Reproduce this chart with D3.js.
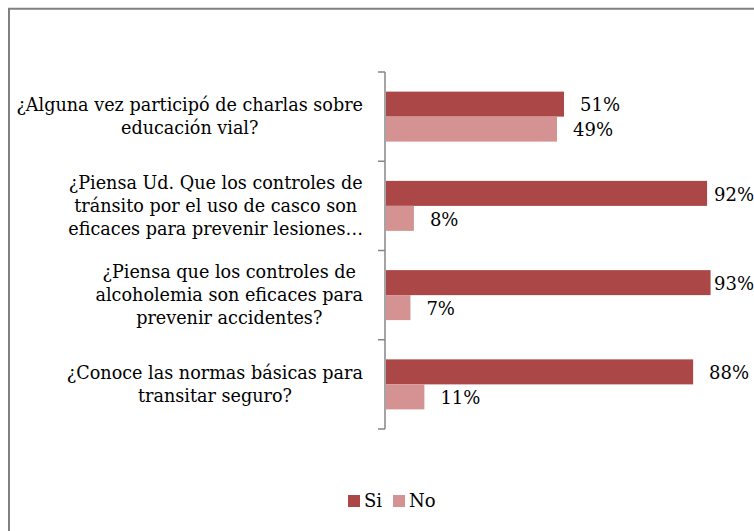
<!DOCTYPE html>
<html>
<head>
  <meta charset="utf-8">
  <script src="https://d3js.org/d3.v7.min.js"></script>
  <style>
    body { margin: 0; background: #fff; }
    svg { display: block; }
    text { font-family: "DejaVu Serif", "Liberation Serif", serif; fill: #000; }
  </style>
</head>
<body>
<script>
  // data
  var categories = [
    ["¿Alguna vez participó de charlas sobre", "educación vial?"],
    ["¿Piensa Ud. Que los controles de", "tránsito por el uso de casco son", "eficaces para prevenir lesiones…"],
    ["¿Piensa que los controles de", "alcoholemia son eficaces para", "prevenir accidentes?"],
    ["¿Conoce las normas básicas para", "transitar seguro?"]
  ];
  var series = ["Si", "No"];
  var siValues = [51, 92, 93, 88];
  var noValues = [49, 8, 7, 11];
  var colors = ["#AB4746", "#D49392"];

  var width = 754, height = 531;

  var svg = d3.select("body").append("svg")
    .attr("width", width)
    .attr("height", height);

  // chart frame (only top and left edges show)
  svg.append("path")
    .attr("d", "M9,531 V8.75 H754")
    .attr("fill", "none")
    .attr("stroke", "#808080")
    .attr("stroke-width", 2);

  var plot = {left: 386, right: 735, top: 72, bottom: 429};

  var y = d3.scaleBand()
    .domain(d3.range(categories.length))
    .range([plot.top, plot.bottom]);

  var ySeries = d3.scaleBand()
    .domain(series)
    .range([0, y.bandwidth()])
    .paddingOuter(0.785);

  var x = d3.scaleLinear()
    .domain([0, 100])
    .range([plot.left, plot.right]);

  var rows = categories.map(function (c, i) {
    return {i: i, lines: c, values: [siValues[i], noValues[i]]};
  });

  // bars
  var groups = svg.selectAll("g.cat")
    .data(rows)
    .enter().append("g")
      .attr("class", "cat")
      .attr("transform", function (d) { return "translate(0," + y(d.i) + ")"; });

  groups.selectAll("rect")
    .data(function (d) { return d.values.map(function (v, j) { return {s: series[j], v: v, j: j}; }); })
    .enter().append("rect")
      .attr("x", x(0))
      .attr("y", function (d) { return ySeries(d.s); })
      .attr("width", function (d) { return x(d.v) - x(0); })
      .attr("height", ySeries.bandwidth())
      .attr("fill", function (d) { return colors[d.j]; });

  groups.selectAll("text.val")
    .data(function (d) { return d.values.map(function (v, j) { return {s: series[j], v: v}; }); })
    .enter().append("text")
      .attr("class", "val")
      .attr("x", function (d) { return Math.min(x(d.v) + 16, 714); })
      .attr("y", function (d) { return ySeries(d.s) + ySeries.bandwidth() / 2 + 1; })
      .attr("dy", "0.35em")
      .style("font-size", "18px")
      .text(function (d) { return d.v + "%"; });

  // vertical axis
  var axis = svg.append("g")
    .attr("transform", "translate(" + (plot.left - 1) + ",0)");
  axis.append("line")
    .attr("y1", plot.top).attr("y2", plot.bottom)
    .attr("stroke", "#868686").attr("stroke-width", 1.5);
  axis.selectAll("line.tick")
    .data(d3.range(categories.length + 1))
    .enter().append("line")
      .attr("class", "tick")
      .attr("x1", -7).attr("x2", 0)
      .attr("y1", function (d) { return plot.top + d * y.step(); })
      .attr("y2", function (d) { return plot.top + d * y.step(); })
      .attr("stroke", "#868686").attr("stroke-width", 1.5);

  // category labels: lines centred inside a block whose right edge sits at 363
  var lineH = 23;
  groups.each(function (d) {
    var g = d3.select(this);
    var t = g.append("text")
      .attr("text-anchor", "middle")
      .style("font-size", "17.6px");
    var n = d.lines.length;
    var spans = t.selectAll("tspan")
      .data(d.lines)
      .enter().append("tspan")
        .attr("y", function (l, k) { return y.bandwidth() / 2 + (k - (n - 1) / 2) * lineH; })
        .attr("dy", "0.35em")
        .text(function (l) { return l; });
    var maxW = 0;
    spans.each(function () { maxW = Math.max(maxW, this.getComputedTextLength()); });
    spans.attr("x", 363 - maxW / 2);
  });

  // legend
  var legend = svg.append("g").attr("transform", "translate(348,495)");
  var items = legend.selectAll("g")
    .data(series)
    .enter().append("g")
      .attr("transform", function (d, i) { return "translate(" + (i * 45) + ",0)"; });
  items.append("rect")
    .attr("width", 12).attr("height", 12)
    .attr("fill", function (d, i) { return colors[i]; });
  items.append("text")
    .attr("x", 16).attr("y", 6).attr("dy", "0.35em")
    .style("font-size", "18px")
    .text(function (d) { return d; });
</script>
</body>
</html>
